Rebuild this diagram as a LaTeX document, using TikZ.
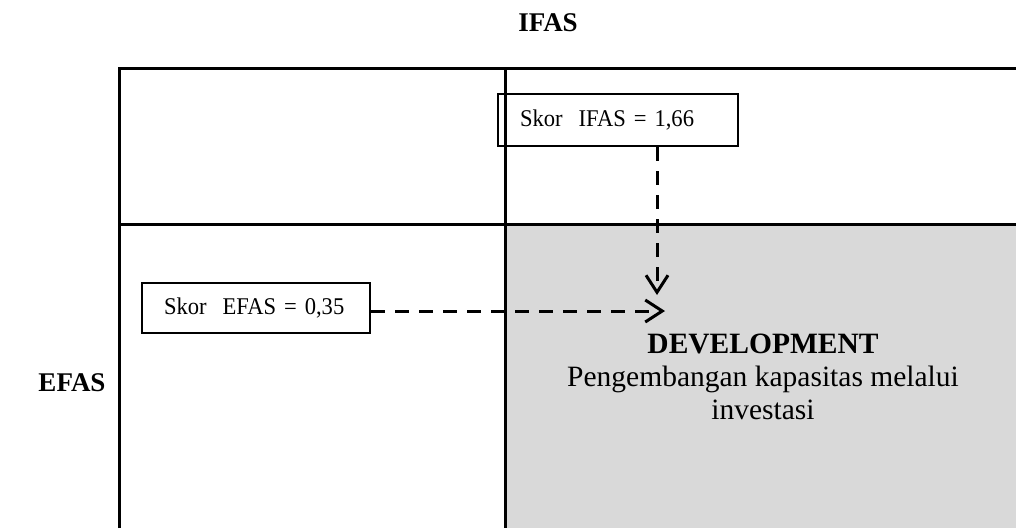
\documentclass[tikz,border=0pt]{standalone}
\usepackage{fontspec}
\setmainfont{Liberation Serif}
\newfontfamily\scorefont[FakeStretch=0.94,WordSpace=0.7]{Liberation Serif}
\usetikzlibrary{arrows.meta}
\definecolor{quadgray}{HTML}{D9D9D9}
\begin{document}
\begin{tikzpicture}[x=1pt,y=-1pt,
  gridline/.style={line width=3pt},
  axislabel/.style={font=\bfseries\fontsize{27}{31}\selectfont,anchor=base,inner sep=0pt},
  scorebox/.style={draw,line width=2pt,inner ysep=0pt,inner xsep=22pt,minimum height=52pt,
    align=left,font=\scorefont\fontsize{24}{28}\selectfont},
  flow/.style={line width=3pt,dash pattern=on 14pt off 10pt,
    -{Straight Barb[length=17pt,width=22pt,line width=3pt]}},
  quadtext/.style={font=\fontsize{29.5}{34}\selectfont,anchor=base,inner sep=0pt}]
\useasboundingbox (0,0) rectangle (1016,528);

% shaded DEVELOPMENT quadrant
\fill[quadgray] (505,224) rectangle (1016,528);

% matrix grid
\draw[gridline] (119,528) -- (119,68) -- (1016,68);
\draw[gridline] (119,224) -- (1016,224);
\draw[gridline] (505,68) -- (505,528);

% axis labels
\node[axislabel] (ifaslabel) at (548,31) {IFAS};
\node[axislabel] (efaslabel) at (72,391) {EFAS};

% score boxes
\node[scorebox,text width=196pt] (ifas) at (618,120) {Skor\ \ IFAS = 1,66};
\node[scorebox,text width=184pt,minimum height=50pt] (efas) at (256,308) {Skor\ \ EFAS = 0,35};

% quadrant text
\node[quadtext,font=\bfseries\fontsize{29.5}{34}\selectfont] (dev) at (763,353) {DEVELOPMENT};
\node[quadtext] (desc1) at (763,386) {Pengembangan kapasitas melalui};
\node[quadtext] (desc2) at (763,419) {investasi};

% arrows to the position point
\coordinate (vtip) at (657,295);
\coordinate (htip) at (665,311);
\draw[flow] (ifas.south -| vtip) -- (vtip);
\draw[flow] (efas.east |- htip) -- (htip);
\end{tikzpicture}
\end{document}
